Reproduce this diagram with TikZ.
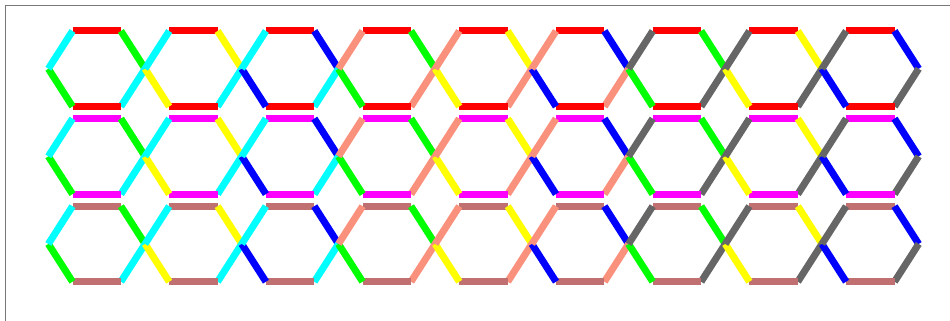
\documentclass[tikz,border=0pt]{standalone}
\definecolor{hred}{RGB}{255,0,0}
\definecolor{hmag}{RGB}{255,0,255}
\definecolor{hbrown}{RGB}{192,112,112}
\definecolor{gA0}{RGB}{0,255,255}
\definecolor{gA1}{RGB}{250,145,125}
\definecolor{gA2}{RGB}{102,102,102}
\definecolor{gB0}{RGB}{0,255,0}
\definecolor{gB1}{RGB}{255,255,0}
\definecolor{gB2}{RGB}{0,0,255}
\definecolor{framecol}{RGB}{120,120,120}
\begin{document}
\begin{tikzpicture}[x=1pt,y=-1pt,
  edge/.style={line width=7pt,line cap=butt},
  framestyle/.style={draw=framecol,line width=1.2pt}]
\useasboundingbox (0,0) rectangle (950,321);
\draw[framestyle] (5.5,321) -- (5.5,5.5) -- (950,5.5);
\foreach \j/\rc in {0/hred,1/hmag,2/hbrown}{
  \foreach \i in {0,...,8}{
    \pgfmathtruncatemacro\g{int(\i/3)}
    \pgfmathtruncatemacro\m{mod(\i,3)}
    \pgfmathsetmacro\cx{96.7+96.7*\i}
    \pgfmathsetmacro\cy{68.75+87.6*\j}
    \draw[edge,color=\rc] (\cx-24.2,\cy-37.75) -- (\cx+24.2,\cy-37.75);
    \draw[edge,color=gB\m] (\cx+24.2,\cy-37.75) -- (\cx+48.35,\cy);
    \draw[edge,color=gA\g] (\cx+48.35,\cy) -- (\cx+24.2,\cy+37.75);
    \draw[edge,color=\rc] (\cx+24.2,\cy+37.75) -- (\cx-24.2,\cy+37.75);
    \draw[edge,color=gB\m] (\cx-24.2,\cy+37.75) -- (\cx-48.35,\cy);
    \draw[edge,color=gA\g] (\cx-48.35,\cy) -- (\cx-24.2,\cy-37.75);
  }
}
\end{tikzpicture}
\end{document}
